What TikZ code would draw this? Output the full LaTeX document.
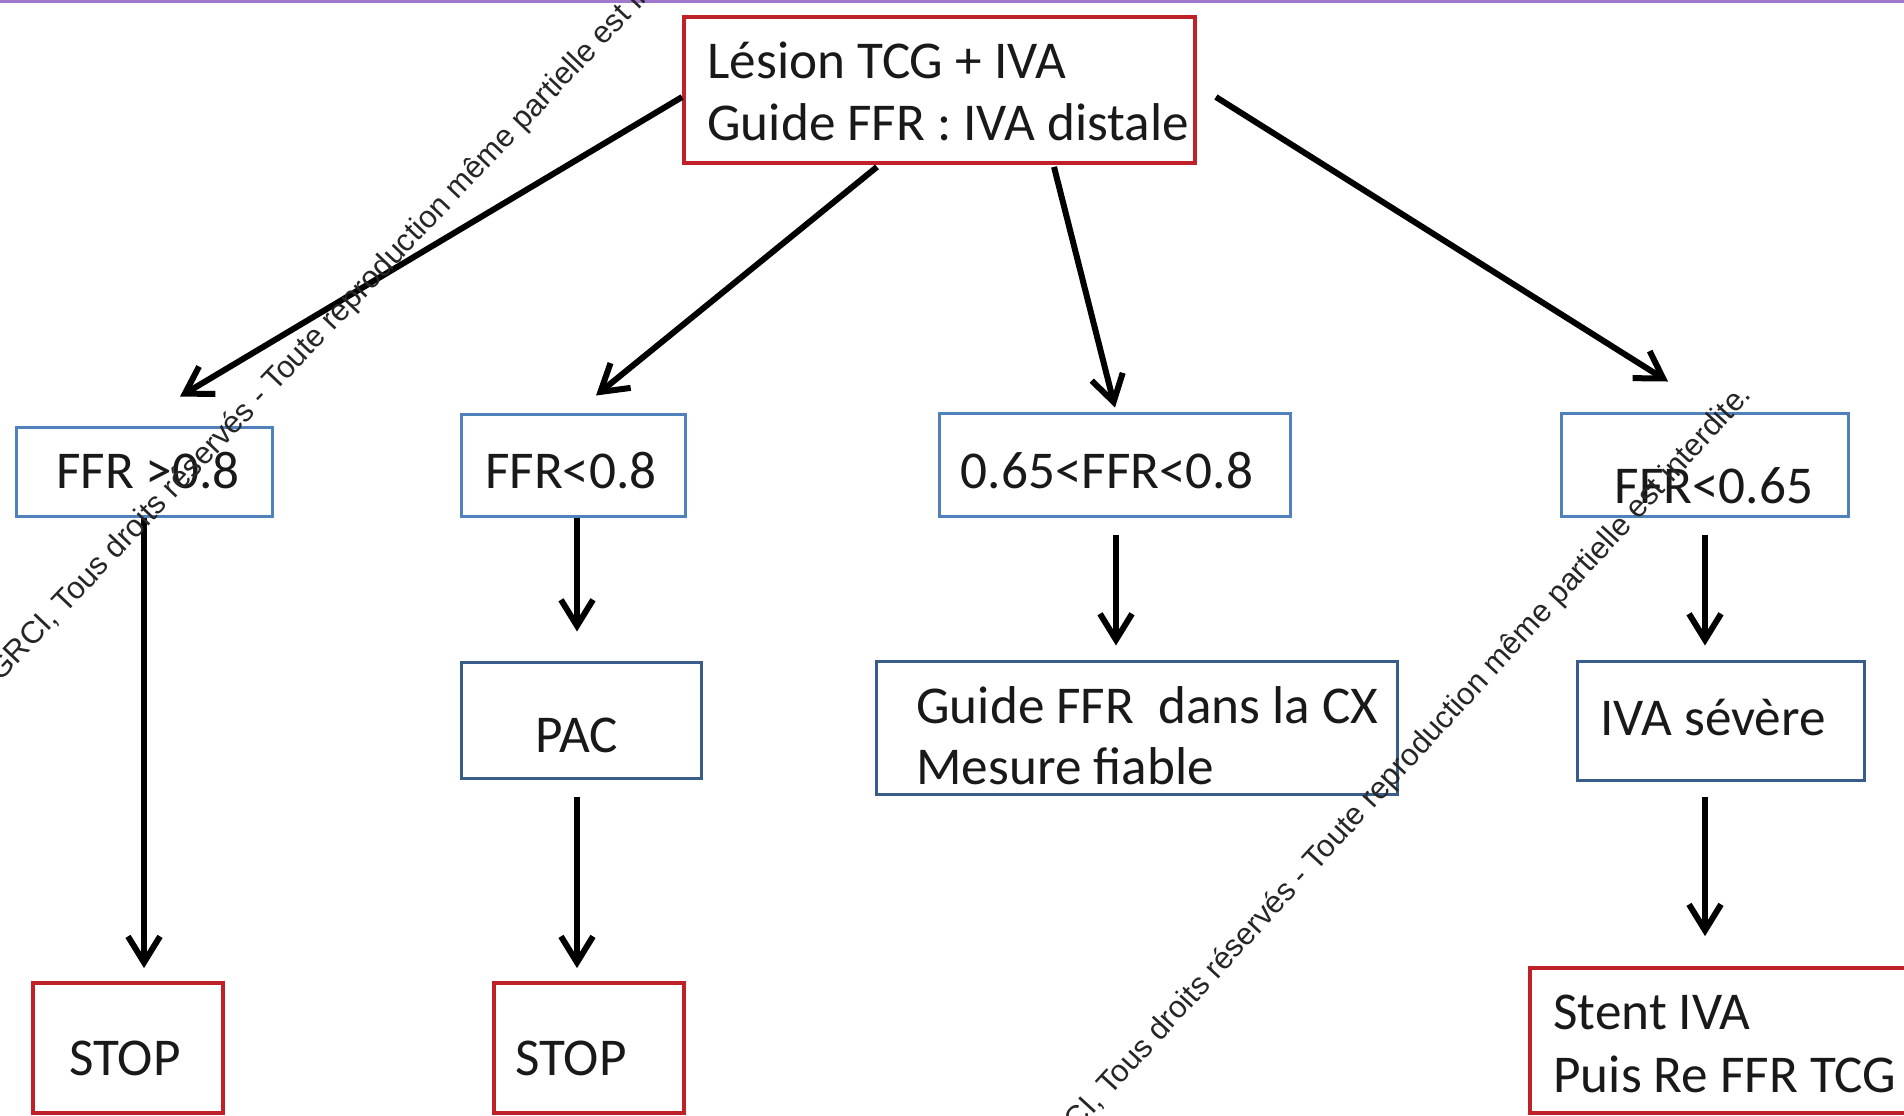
\documentclass[tikz,border=0pt]{standalone}
\usepackage{fontspec}
\setmainfont{Carlito}
\newfontfamily\wmfont{Liberation Sans}
\usetikzlibrary{arrows.meta,calc,fit}
\definecolor{boxred}{RGB}{192,32,40}
\definecolor{boxblue}{RGB}{79,129,189}
\definecolor{boxnavy}{RGB}{56,93,138}
\definecolor{txt}{RGB}{25,25,25}
\definecolor{topline}{RGB}{160,120,205}
\tikzset{
  box/.style={rectangle, inner sep=0pt, line width=1.5pt},
  redbox/.style={box, draw=boxred, line width=1.9pt},
  bluebox/.style={box, draw=boxblue},
  navybox/.style={box, draw=boxnavy},
  lbl/.style={inner sep=0pt, text=txt, font=\fontsize{26.6}{31}\selectfont},
  wm/.style={inner sep=0pt, text=black!85, font=\wmfont\fontsize{15.5}{18}\selectfont},
  arr/.style={line width=3pt, -{Straight Barb[length=13pt,width=16pt]}}
}
\begin{document}
\begin{tikzpicture}[x=0.5pt,y=-0.5pt]
\useasboundingbox (0,0) rectangle (1904,1115);
\clip (0,0) rectangle (1904,1115);
\fill[white] (0,0) rectangle (1904,1115);
\fill[topline] (0,0) rectangle (1904,3);

% boxes
\node[redbox, fit={(684,17) (1195,163)}] (top) {};
\node[bluebox, fit={(16,427) (272,516)}] (ffr1) {};
\node[bluebox, fit={(461,414) (685,516)}] (ffr2) {};
\node[bluebox, fit={(939,413) (1290,516)}] (ffr3) {};
\node[bluebox, fit={(1561,413) (1848,516)}] (ffr4) {};
\node[navybox, fit={(461,662) (701,778)}] (pac) {};
\node[navybox, fit={(876,661) (1397,794)}] (guide) {};
\node[navybox, fit={(1577,661) (1864,780)}] (iva) {};
\node[redbox, fit={(33,983) (223,1113)}] (stop1) {};
\node[redbox, fit={(494,983) (684,1113)}] (stop2) {};
\node[redbox, fit={(1530,968) (1915,1113)}] (stent) {};

% texts
\node[lbl, anchor=base west] (topa) at (707,78) {Lésion TCG + IVA};
\node[lbl, anchor=base west] (topb) at (707,140) {Guide FFR : IVA distale};
\node[lbl, anchor=base] (ffr1t) at (148,488) {FFR >0.8};
\node[lbl, anchor=base] (ffr2t) at (571,488) {FFR<0.8};
\node[lbl, anchor=base] (ffr3t) at (1107,488) {0.65<FFR<0.8};
\node[lbl, anchor=base] (ffr4t) at (1714,503) {FFR<0.65};
\node[lbl, anchor=base] (pact) at (577,752) {PAC};
\node[lbl, anchor=base west] (guidea) at (916,723) {Guide FFR\ \ dans la CX};
\node[lbl, anchor=base west] (guideb) at (916,784) {Mesure fiable};
\node[lbl, anchor=base] (ivat) at (1713,735) {IVA sévère};
\node[lbl, anchor=base] (stop1t) at (125,1075) {STOP};
\node[lbl, anchor=base] (stop2t) at (571,1075) {STOP};
\node[lbl, anchor=base west] (stenta) at (1553,1029) {Stent IVA};
\node[lbl, anchor=base west] (stentb) at (1553,1092) {Puis Re FFR TCG};

% connectors
\draw[arr] ($(top.west)+(0,7)$) -- ($(ffr1.north)+(36,-29)$);
\draw[arr] ($(top.south)+(-62.5,2)$) -- ($(ffr2.north)+(23,-17)$);
\draw[arr] ($(top.south)+(114.5,2)$) -- ($(ffr3.north)+(0.5,-4)$);
\draw[arr] ($(top.east)+(19,7)$) -- ($(ffr4.north)+(-36.5,-30)$);
\draw[arr] (ffr1.south) -- ($(stop1.north)+(16,-13)$);
\draw[arr] ($(ffr2.south)+(4,0)$) -- ($(pac.north)+(-4,-29)$);
\draw[arr] ($(pac.south)+(-4,17)$) -- ($(stop2.north)+(-12,-13)$);
\draw[arr] ($(ffr3.south)+(1.5,17)$) -- ($(guide.north)+(-20.5,-14)$);
\draw[arr] ($(ffr4.south)+(0.5,17)$) -- ($(iva.north)+(-15.5,-14)$);
\draw[arr] ($(iva.south)+(-15.5,15)$) -- ($(stent.north)+(-17.5,-30)$);

% watermark lines
\node[wm, anchor=base west, rotate=46.5] (wm1) at (0,683) {GRCI, Tous droits réservés - Toute reproduction même partielle est interdite.};
\node[wm, anchor=base west, rotate=47.5] (wm2) at (1046,1167) {GRCI, Tous droits réservés - Toute reproduction même partielle est interdite.};
\end{tikzpicture}
\end{document}
